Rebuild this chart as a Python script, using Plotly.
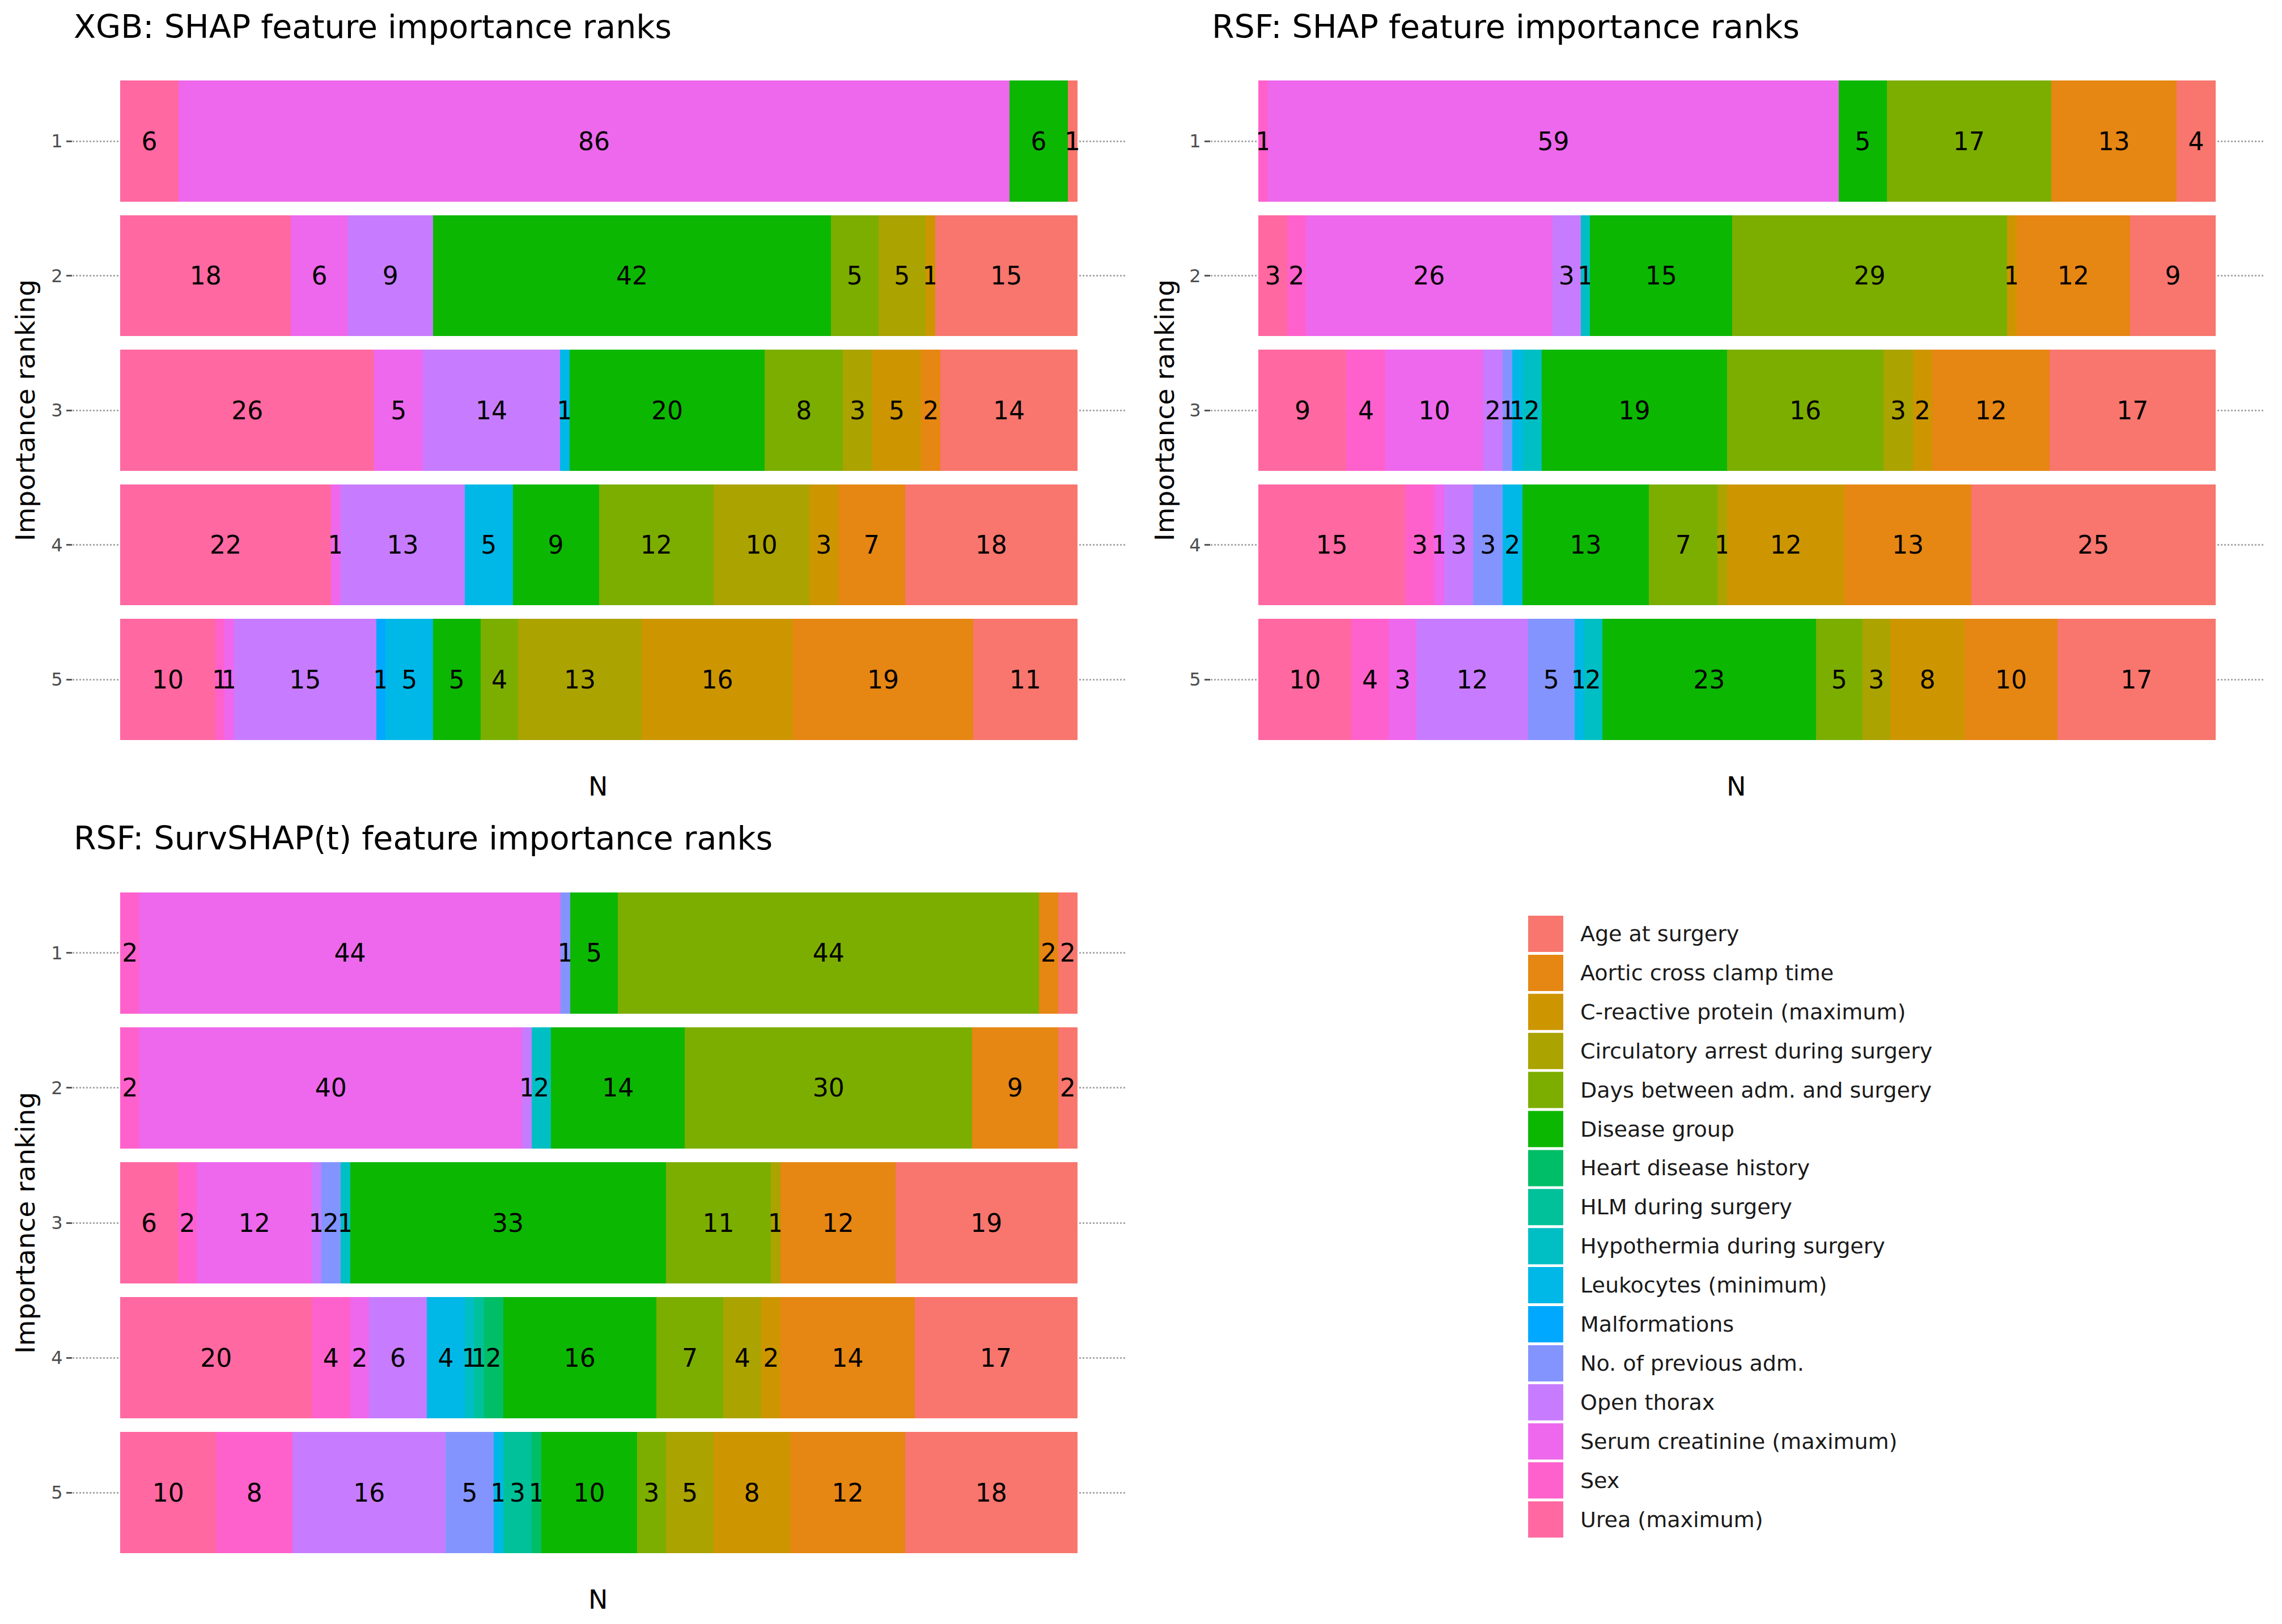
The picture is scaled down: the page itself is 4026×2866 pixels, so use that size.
import plotly.graph_objects as go

# ---------------- data ----------------
features = [
    "Age at surgery", "Aortic cross clamp time", "C-reactive protein (maximum)",
    "Circulatory arrest during surgery", "Days between adm. and surgery", "Disease group",
    "Heart disease history", "HLM during surgery", "Hypothermia during surgery",
    "Leukocytes (minimum)", "Malformations", "No. of previous adm.", "Open thorax",
    "Serum creatinine (maximum)", "Sex", "Urea (maximum)",
]
feature_colors = [
    "#F8766D", "#E68613", "#CD9600", "#ABA300", "#7CAE00", "#0CB702", "#00BE67", "#00C19A",
    "#00BFC4", "#00B8E7", "#00A9FF", "#8494FF", "#C77CFF", "#ED68ED", "#FF61CC", "#FF68A1",
]
ranks = [1, 2, 3, 4, 5]
rank_labels = ["1", "2", "3", "4", "5"]

# counts per feature (same order as `features`), for ranks 1..5
xgb_counts = [
    [1, 15, 14, 18, 11],   # Age at surgery
    [0, 0, 2, 7, 19],      # Aortic cross clamp time
    [0, 1, 5, 3, 16],      # C-reactive protein
    [0, 5, 3, 10, 13],     # Circulatory arrest
    [0, 5, 8, 12, 4],      # Days between adm. and surgery
    [6, 42, 20, 9, 5],     # Disease group
    [0, 0, 0, 0, 0],       # Heart disease history
    [0, 0, 0, 0, 0],       # HLM during surgery
    [0, 0, 0, 0, 0],       # Hypothermia
    [0, 0, 1, 5, 5],       # Leukocytes
    [0, 0, 0, 0, 1],       # Malformations
    [0, 0, 0, 0, 0],       # No. of previous adm.
    [0, 9, 14, 13, 15],    # Open thorax
    [86, 6, 5, 1, 1],      # Serum creatinine
    [0, 0, 0, 0, 1],       # Sex
    [6, 18, 26, 22, 10],   # Urea
]
rsf_counts = [
    [4, 9, 17, 25, 17],
    [13, 12, 12, 13, 10],
    [0, 1, 2, 12, 8],
    [0, 0, 3, 1, 3],
    [17, 29, 16, 7, 5],
    [5, 15, 19, 13, 23],
    [0, 0, 0, 0, 0],
    [0, 0, 0, 0, 0],
    [0, 1, 2, 0, 2],
    [0, 0, 1, 2, 1],
    [0, 0, 0, 0, 0],
    [0, 0, 1, 3, 5],
    [0, 3, 2, 3, 12],
    [59, 26, 10, 1, 3],
    [1, 2, 4, 3, 4],
    [0, 3, 9, 15, 10],
]
survshap_counts = [
    [2, 2, 19, 17, 18],
    [2, 9, 12, 14, 12],
    [0, 0, 0, 2, 8],
    [0, 0, 1, 4, 5],
    [44, 30, 11, 7, 3],
    [5, 14, 33, 16, 10],
    [0, 0, 0, 2, 1],
    [0, 0, 0, 1, 3],
    [0, 2, 1, 1, 0],
    [0, 0, 0, 4, 1],
    [0, 0, 0, 0, 0],
    [1, 0, 2, 0, 5],
    [0, 1, 1, 6, 16],
    [44, 40, 12, 2, 0],
    [2, 2, 2, 4, 8],
    [0, 0, 6, 20, 10],
]
panel_titles = [
    "XGB: SHAP feature importance ranks",
    "RSF: SHAP feature importance ranks",
    "RSF: SurvSHAP(t) feature importance ranks",
]

# ---------------- figure ----------------
W, H = 4026, 2866
FONT = "DejaVu Sans"

fig = go.Figure()

panels = [
    (xgb_counts, "x", "y"),
    (rsf_counts, "x2", "y2"),
    (survshap_counts, "x3", "y3"),
]
for counts, xa, ya in panels:
    # stack from Urea (left) to Age at surgery (right)
    for i in reversed(range(len(features))):
        vals = counts[i]
        fig.add_trace(go.Bar(
            x=vals, y=ranks, orientation="h",
            marker=dict(color=feature_colors[i], line=dict(width=0)),
            name=features[i], showlegend=False,
            text=[str(v) if v > 0 else "" for v in vals],
            textposition="inside", insidetextanchor="middle", textangle=0,
            textfont=dict(family=FONT, size=44, color="black"),
            xaxis=xa, yaxis=ya, hoverinfo="skip",
        ))

x_left = [128 / W, 1985 / W]
x_right = [2136 / W, 3993 / W]
y_top = [1 - 1341.6 / H, 1 - 106.6 / H]
y_bot = [1 - 2777 / H, 1 - 1539 / H]

def xax(domain, anchor):
    return dict(domain=domain, anchor=anchor, range=[-0.05, 1.05], showticklabels=False,
                showgrid=False, zeroline=False, showline=False, ticks="", fixedrange=True)

def yax(domain, anchor):
    return dict(domain=domain, anchor=anchor, range=[5.6, 0.4], tickvals=ranks,
                ticktext=rank_labels, showgrid=True, griddash="dot", gridcolor="#A8A8A8",
                gridwidth=3, zeroline=False, showline=False, ticks="outside", ticklen=10,
                tickwidth=3, tickcolor="#555555",
                tickfont=dict(family=FONT, size=32, color="#4D4D4D"), fixedrange=True)

annotations = []
shapes = []
for title, xd, yd in [(panel_titles[0], x_left, y_top), (panel_titles[1], x_right, y_top),
                      (panel_titles[2], x_left, y_bot)]:
    annotations.append(dict(text=title, x=xd[0], y=yd[1] + 60 / H, xref="paper", yref="paper",
                            xanchor="left", yanchor="middle", showarrow=False,
                            font=dict(family=FONT, size=57, color="black")))
    xt = 44 / W if xd is x_left else 2054 / W
    annotations.append(dict(text="Importance ranking", x=xt, y=(yd[0] + yd[1]) / 2,
                            xref="paper", yref="paper", textangle=-90, showarrow=False,
                            xanchor="center", yanchor="middle",
                            font=dict(family=FONT, size=47, color="black")))
    xc = 1055 / W if xd is x_left else 3063 / W
    annotations.append(dict(text="N", x=xc, y=yd[0] - 46 / H, xref="paper", yref="paper",
                            showarrow=False, xanchor="center", yanchor="middle",
                            font=dict(family=FONT, size=46, color="black")))

# manual legend (large key boxes as in the reference)
lg_x0, lg_x1 = 2696 / W, 2758 / W
lg_text_x = 2786 / W
for k, (name, col) in enumerate(zip(features, feature_colors)):
    cy = 1648 + k * 68.9
    shapes.append(dict(type="rect", xref="paper", yref="paper", x0=lg_x0, x1=lg_x1,
                       y0=1 - (cy + 32) / H, y1=1 - (cy - 32) / H,
                       fillcolor=col, line=dict(width=0)))
    annotations.append(dict(text=name, x=lg_text_x, y=1 - cy / H, xref="paper", yref="paper",
                            xanchor="left", yanchor="middle", showarrow=False,
                            font=dict(family=FONT, size=38, color="#1A1A1A")))

fig.update_layout(
    width=W, height=H, margin=dict(l=0, r=0, t=0, b=0),
    paper_bgcolor="white", plot_bgcolor="white",
    barmode="stack", barnorm="fraction", bargap=0.1,
    uniformtext=dict(minsize=44, mode="show"),
    showlegend=False,
    xaxis=xax(x_left, "y"), yaxis=yax(y_top, "x"),
    xaxis2=xax(x_right, "y2"), yaxis2=yax(y_top, "x2"),
    xaxis3=xax(x_left, "y3"), yaxis3=yax(y_bot, "x3"),
    annotations=annotations, shapes=shapes,
    font=dict(family=FONT),
)

fig.write_html("out.html")
